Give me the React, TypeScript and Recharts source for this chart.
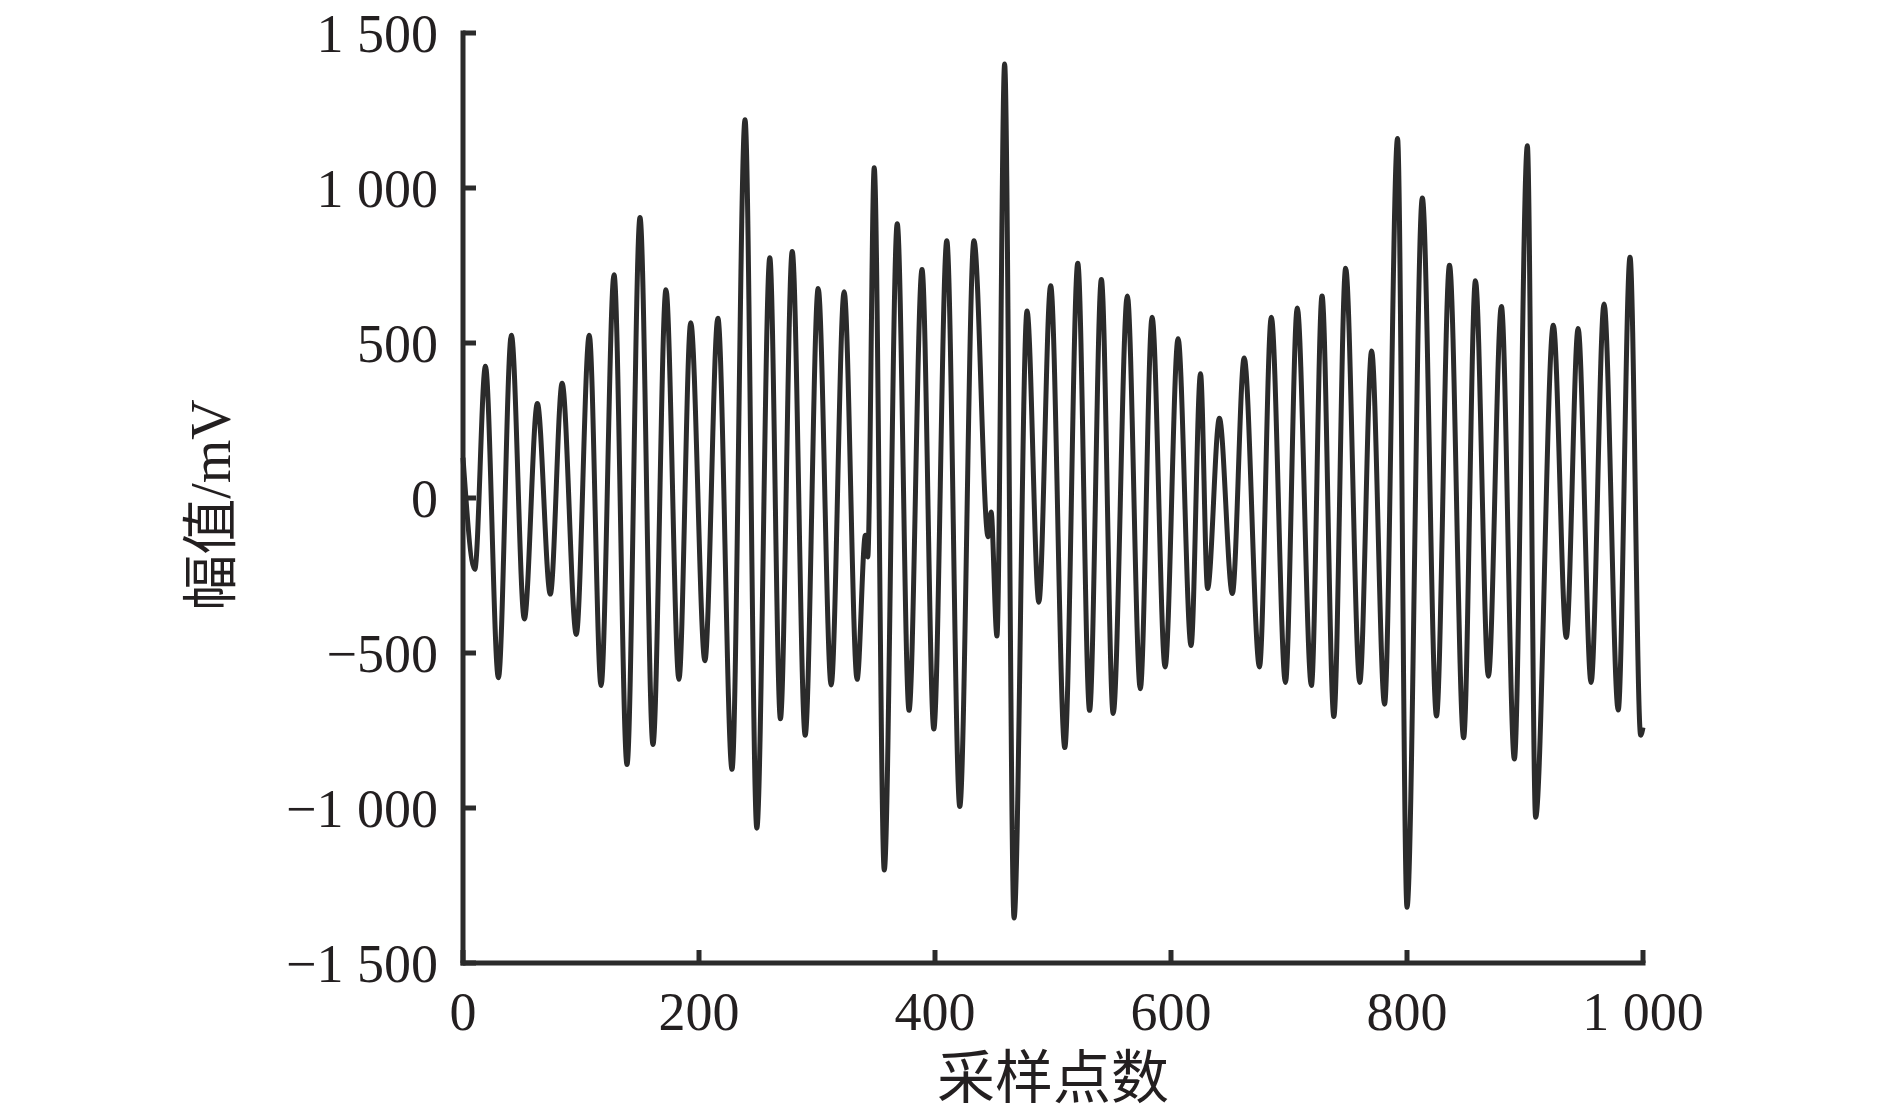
import { Line, LineChart, XAxis, YAxis } from "recharts";

// sample index of each turning point of the signal
const sampleIdx = [
  0, 10, 19, 30, 41, 52, 63, 74, 84, 96, 107, 117, 128, 139, 150, 161, 172, 183, 193, 205,
  216, 228, 239, 249, 260, 269, 279, 290, 301, 312, 323, 334, 341, 343, 348.5, 357, 368, 378,
  389, 399, 410, 421, 433, 445, 447.5, 452.5, 459, 467, 478, 488, 498, 510, 521, 531, 541, 551,
  563, 574, 584, 595, 606, 617, 625, 631, 641, 652, 662, 675, 685, 697, 707, 719, 728, 738,
  748, 760, 770, 781, 792, 800, 813, 825, 836, 848, 858, 869, 880, 891, 902, 909, 924, 935,
  945, 956, 967, 979, 989, 998, 1000,
];

// amplitude (mV) at those points
const amplitude = [
  130, -230, 425, -580, 525, -390, 305, -310, 370, -440, 525, -605, 720, -860, 905, -795, 672,
  -585, 565, -525, 580, -875, 1220, -1065, 775, -712, 795, -765, 676, -603, 665, -585, -120,
  -190, 1065, -1200, 885, -685, 737, -745, 830, -995, 830, -125, -45, -445, 1400, -1355, 603,
  -336, 685, -805, 757, -685, 705, -695, 652, -615, 583, -545, 514, -476, 401, -292, 257, -308,
  452, -545, 583, -595, 613, -605, 652, -705, 741, -595, 474, -665, 1160, -1320, 968, -703, 751,
  -773, 701, -575, 618, -842, 1136, -1030, 557, -450, 547, -595, 626, -684, 777, -765, -740,
];

const xTicks = [0, 200, 400, 600, 800, 1000];
const yTicks = [-1500, -1000, -500, 0, 500, 1000, 1500];

const data = sampleIdx.map((s, i) => ({ s, v: amplitude[i] }));

const INK = "#2b2b2b";
const SERIF = "'Liberation Serif', 'Times New Roman', 'Noto Sans CJK SC', serif";

// 1 500, −1 000 ...
function fmt(v: number) {
  const body = Math.abs(v)
    .toString()
    .replace(/\B(?=(\d{3})+(?!\d))/g, " ");
  return v < 0 ? "\u2212" + body : body;
}

function YTitle(props: any) {
  const { viewBox } = props;
  const cx = viewBox.x + 211;
  const cy = viewBox.y + viewBox.height / 2 + 7;
  return (
    <text
      x={cx}
      y={cy}
      transform={`rotate(-90 ${cx} ${cy})`}
      textAnchor="middle"
      dominantBaseline="central"
      fontFamily={SERIF}
      fontSize={56}
      fill="#231f20"
    >
      幅值/mV
    </text>
  );
}

function XTitle(props: any) {
  const { viewBox } = props;
  const cx = viewBox.x + viewBox.width / 2;
  return (
    <text x={cx} y={1098} textAnchor="middle" fontFamily={SERIF} fontSize={58} fill="#231f20">
      采样点数
    </text>
  );
}

export default function App() {
  const tickStyle = { fontSize: 54, fontFamily: SERIF, fill: "#231f20" };
  return (
    <div style={{ position: "absolute", left: 0, top: 0, background: "#fff" }}>
      <LineChart width={1890} height={1120} data={data} margin={{ top: 33, right: 247, bottom: 0, left: 0 }}>
        <XAxis
          dataKey="s"
          type="number"
          domain={[0, 1000]}
          ticks={xTicks}
          tickFormatter={fmt}
          height={157}
          tickSize={-13}
          tickMargin={42}
          tick={tickStyle}
          axisLine={{ stroke: INK, strokeWidth: 5, strokeLinecap: "square" }}
          tickLine={{ stroke: INK, strokeWidth: 5 }}
          interval={0}
          label={<XTitle />}
        />
        <YAxis
          type="number"
          domain={[-1500, 1500]}
          ticks={yTicks}
          tickFormatter={fmt}
          width={463}
          tickSize={-13}
          tickMargin={38}
          tick={tickStyle}
          axisLine={{ stroke: INK, strokeWidth: 5, strokeLinecap: "square" }}
          tickLine={{ stroke: INK, strokeWidth: 5 }}
          interval={0}
          label={<YTitle />}
        />
        <Line
          type="monotone"
          dataKey="v"
          stroke={INK}
          strokeWidth={5}
          dot={false}
          isAnimationActive={false}
        />
      </LineChart>
    </div>
  );
}
